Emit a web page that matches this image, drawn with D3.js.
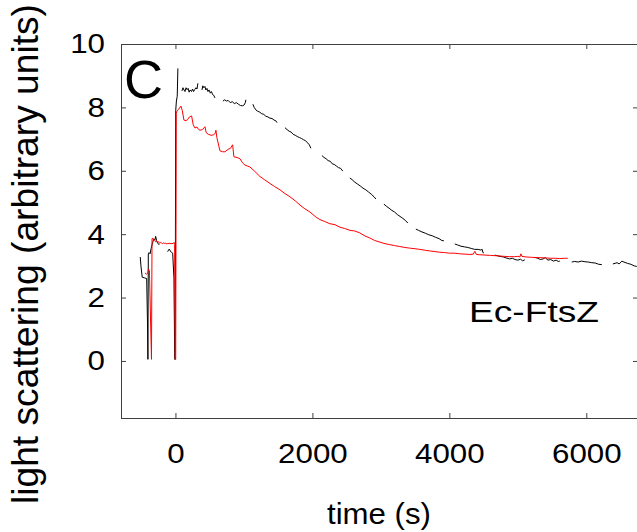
<!DOCTYPE html>
<html>
<head>
<meta charset="utf-8">
<script src="https://cdn.jsdelivr.net/npm/d3@7"></script>
<style>
  body { margin: 0; background: #fff; }
  svg text { font-family: "Liberation Sans", Arial, sans-serif; fill: #000; }
  .axis path { display: none; }
  .axis line { stroke: #404040; }
</style>
</head>
<body>
<div id="chart"></div>
<script>
// data (time in s, light scattering in arbitrary units)
// null marks a gap in the trace
var blackData = [
  [-514,3.28],[-504,3.0],[-485,2.64],[-450,2.62],[-420,2.60],[-408,1.2],[-402,0.05],[-396,3.38],[-385,3.42],
  [-370,3.38],[-355,3.55],[-335,3.72],[-315,3.85],[-300,3.82],[-289,3.93],[-275,3.8],[-260,3.72],[-236,3.66],
  null,
  [-114,3.45],[-100,3.5],[-90,3.53],[-75,3.47],[-56,3.42],[-40,3.4],[-22,2.62],[-10,0.05],[-4,0.05],
  [4,7.9],[14,8.2],[26,8.35],[36,9.23],
  null,
  [95,8.52],[110,8.62],[125,8.55],[140,8.5],[155,8.62],[170,8.56],[185,8.6],[200,8.48],[215,8.55],[235,8.5],
  [250,8.58],[265,8.5],[280,8.56],[300,8.62],[315,8.58],[328,8.76],
  null,
  [387,8.55],[400,8.68],[415,8.62],[430,8.66],[445,8.55],[460,8.6],[475,8.5],[490,8.55],[510,8.45],[525,8.5],
  [545,8.4],[560,8.38],[577,8.3],
  null,
  [693,8.2],[720,8.24],[745,8.2],[770,8.22],[800,8.15],[830,8.18],[860,8.12],[890,8.15],[920,8.1],[950,8.06],
  [980,8.05],[1005,8.08],[1020,8.15],[1029,8.24],
  null,
  [1131,8.1],[1150,8.0],[1175,7.92],[1200,7.88],[1230,7.85],[1260,7.8],[1290,7.78],[1320,7.72],[1350,7.7],
  [1380,7.66],[1410,7.65],[1440,7.6],[1465,7.58],[1482,7.52],
  null,
  [1599,7.36],[1630,7.3],[1660,7.25],[1690,7.22],[1720,7.15],[1750,7.12],[1780,7.08],[1810,7.05],[1840,7.02],
  [1870,6.98],[1900,6.95],[1930,6.88],[1955,6.82],[1978,6.71],
  null,
  [2139,6.48],[2170,6.42],[2200,6.38],[2230,6.32],[2260,6.3],[2290,6.22],[2320,6.2],[2350,6.15],[2380,6.1],
  [2410,6.08],[2445,5.99],
  null,
  [2547,5.77],[2580,5.72],[2620,5.64],[2660,5.58],[2700,5.52],[2740,5.45],[2780,5.4],[2820,5.33],[2860,5.26],
  [2900,5.18],[2927,5.11],
  null,
  [3044,4.95],[3080,4.88],[3120,4.82],[3160,4.75],[3200,4.7],[3240,4.62],[3280,4.56],[3320,4.5],[3360,4.43],
  [3394,4.35],
  null,
  [3511,4.16],[3550,4.12],[3600,4.07],[3650,4.03],[3700,3.98],[3750,3.95],[3800,3.9],[3850,3.86],[3890,3.8],
  [3920,3.79],
  null,
  [4080,3.69],[4120,3.66],[4170,3.62],[4220,3.6],[4270,3.58],[4320,3.55],[4370,3.52],[4420,3.52],[4460,3.5],
  [4480,3.52],[4490,3.42],[4504,3.41],
  null,
  [4664,3.34],[4700,3.32],[4740,3.3],[4790,3.28],[4830,3.25],[4880,3.22],[4920,3.24],[4960,3.2],[5000,3.18],
  [5040,3.21],[5070,3.16],[5102,3.19],
  null,
  [5248,3.27],[5290,3.24],[5330,3.2],[5370,3.22],[5400,3.26],[5440,3.18],[5480,3.2],[5520,3.15],[5560,3.18],
  [5590,3.14],[5613,3.15],
  null,
  [5788,3.12],[5830,3.14],[5880,3.12],[5930,3.15],[5980,3.13],[6030,3.12],[6080,3.1],[6130,3.09],[6180,3.05],
  [6226,3.04],
  null,
  [6387,3.06],[6420,3.08],[6450,3.1],[6480,3.06],[6520,3.15],[6550,3.12],[6600,3.08],[6650,3.05],[6700,3.0],
  [6737,2.98]
];

var redData = [
  [-445,2.78],[-425,2.74],[-405,2.76],[-395,2.9],[-380,2.85],[-350,0.05],[-342,3.85],[-330,3.88],[-318,3.8],
  [-305,3.82],[-290,3.76],[-275,3.78],[-260,3.74],[-245,3.76],[-230,3.71],[-215,3.74],[-200,3.72],[-185,3.7],
  [-170,3.73],[-155,3.7],[-140,3.72],[-125,3.69],[-110,3.71],[-95,3.7],[-80,3.72],[-65,3.69],[-50,3.71],
  [-35,3.7],[-20,3.74],[-12,3.68],[-4,0.05],[4,0.05],[12,7.8],[25,7.9],[50,7.95],[80,8.04],[100,7.9],
  [124,7.6],[153,7.58],[180,7.62],[205,7.7],[236,7.73],[260,7.45],[285,7.35],[314,7.38],[340,7.3],[358,7.28],
  [395,7.3],[431,7.39],[450,7.2],[480,7.15],[520,7.12],[552,7.13],[580,7.18],[591,7.28],[605,7.05],[650,6.63],
  [690,6.6],[723,6.6],[771,6.68],[800,6.7],[835,6.82],[854,6.44],[900,6.42],[942,6.38],[980,6.25],[1015,6.18],
  [1050,6.15],[1088,6.12],[1150,6.0],[1234,5.82],[1300,5.72],[1380,5.6],[1450,5.5],[1526,5.4],[1600,5.28],
  [1672,5.18],[1750,5.05],[1818,4.92],[1890,4.8],[1964,4.7],[2040,4.56],[2109,4.46],[2180,4.4],[2255,4.33],
  [2330,4.3],[2401,4.22],[2470,4.18],[2550,4.12],[2620,4.1],[2693,4.04],[2770,3.94],[2839,3.88],[2910,3.8],
  [2985,3.75],[3060,3.7],[3130,3.67],[3200,3.64],[3277,3.61],[3350,3.58],[3420,3.56],[3500,3.54],[3569,3.52],
  [3650,3.49],[3720,3.47],[3790,3.45],[3861,3.43],[3930,3.42],[4000,3.4],[4080,3.4],[4153,3.38],[4230,3.37],
  [4300,3.36],[4350,3.37],[4372,3.46],[4395,3.36],[4445,3.35],[4520,3.34],[4600,3.33],[4680,3.32],[4737,3.31],
  [4800,3.3],[4880,3.29],[4950,3.29],[5000,3.3],[5029,3.28],[5045,3.38],[5060,3.3],[5120,3.28],[5200,3.27],
  [5260,3.26],[5321,3.26],[5400,3.25],[5480,3.24],[5550,3.24],[5613,3.23],[5680,3.24],[5730,3.24]
];

var xTicks = [0, 2000, 4000, 6000];
var yTicks = [0, 2, 4, 6, 8, 10];
var panelLabel = "C";
var sampleLabel = "Ec-FtsZ";

// layout
const WIDTH = 637, HEIGHT = 532;
const LEFT = 121, RIGHT = 638, TOP = 44, BOTTOM = 418;
const DIGIT_W = 17.4;

var svg = d3.select('#chart').append('svg')
            .attr('width', WIDTH)
            .attr('height', HEIGHT);

var x = d3.scaleLinear().domain([-795, 6755]).range([LEFT, RIGHT]);
var y = d3.scaleLinear().domain([-1.8, 10]).range([BOTTOM, TOP]);

svg.append('clipPath').attr('id', 'plotclip')
   .append('rect')
   .attr('x', LEFT).attr('y', TOP)
   .attr('width', RIGHT - LEFT).attr('height', BOTTOM - TOP);

// data traces
var line = d3.line()
             .defined(d => d !== null)
             .x(d => x(d[0]))
             .y(d => y(d[1]));

var traces = svg.append('g').attr('clip-path', 'url(#plotclip)');
traces.append('path').datum(blackData)
      .attr('d', line).attr('fill', 'none')
      .attr('stroke', '#000').attr('stroke-width', 1);
traces.append('path').datum(redData)
      .attr('d', line).attr('fill', 'none')
      .attr('stroke', '#ff0000').attr('stroke-width', 1);

// frame
svg.append('rect')
   .attr('x', LEFT + 0.5).attr('y', TOP + 0.5)
   .attr('width', RIGHT - LEFT).attr('height', BOTTOM - TOP)
   .attr('fill', 'none').attr('stroke', '#404040').attr('stroke-width', 1);

// axes (ticks point inward)
function stretchLabels(sel) {
  sel.selectAll('text')
     .style('font-size', '28px')
     .attr('textLength', d => String(d).length * DIGIT_W)
     .attr('lengthAdjust', 'spacingAndGlyphs');
}

svg.append('g').attr('class', 'axis')
   .attr('transform', 'translate(0,' + BOTTOM + ')')
   .call(d3.axisBottom(x).tickValues(xTicks).tickSize(-5).tickPadding(25).tickFormat(d3.format('d')))
   .call(stretchLabels);

svg.append('g').attr('class', 'axis')
   .attr('transform', 'translate(0,' + TOP + ')')
   .call(d3.axisTop(x).tickValues(xTicks).tickSize(-5).tickFormat(''));

svg.append('g').attr('class', 'axis')
   .attr('transform', 'translate(' + LEFT + ',0)')
   .call(d3.axisLeft(y).tickValues(yTicks).tickSize(-5).tickPadding(16).tickFormat(d3.format('d')))
   .call(stretchLabels);

svg.append('g').attr('class', 'axis')
   .attr('transform', 'translate(' + RIGHT + ',0)')
   .call(d3.axisRight(y).tickValues(yTicks).tickSize(-5).tickFormat(''));

// titles
svg.append('text')
   .attr('x', 379).attr('y', 524)
   .attr('text-anchor', 'middle')
   .style('font-size', '30px')
   .attr('textLength', 104).attr('lengthAdjust', 'spacingAndGlyphs')
   .text('time (s)');

svg.append('text')
   .attr('transform', 'translate(38,254) rotate(-90)')
   .attr('text-anchor', 'middle')
   .style('font-size', '36px')
   .attr('textLength', 500).attr('lengthAdjust', 'spacingAndGlyphs')
   .text('light scattering (arbitrary units)');

svg.append('text')
   .attr('x', 124).attr('y', 98)
   .style('font-size', '54px')
   .text(panelLabel);

svg.append('text')
   .attr('x', 469).attr('y', 322)
   .style('font-size', '30px')
   .attr('textLength', 130).attr('lengthAdjust', 'spacingAndGlyphs')
   .text(sampleLabel);
</script>
</body>
</html>
